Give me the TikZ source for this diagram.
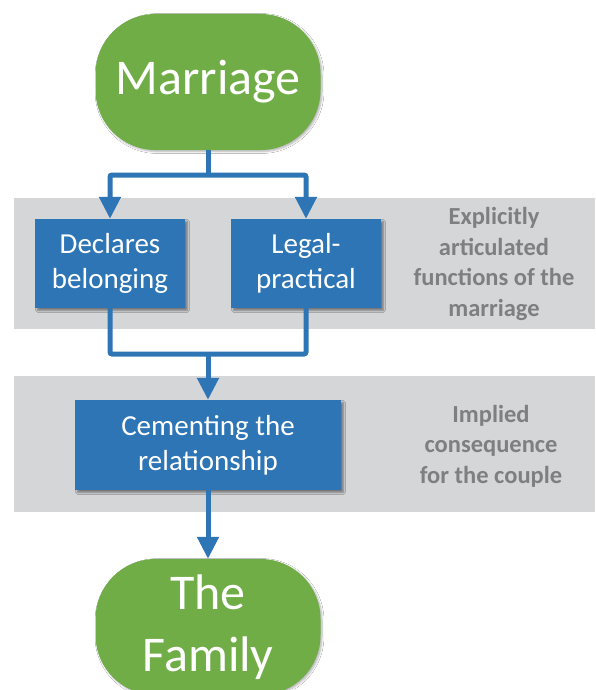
\documentclass[tikz,border=0pt]{standalone}
\usepackage{fontspec}
\setmainfont{Carlito}
\usetikzlibrary{arrows.meta,shadows.blur}
\definecolor{cblue}{HTML}{2E75B6}
\definecolor{cgreen}{HTML}{70AD47}
\definecolor{cband}{HTML}{D5D6D8}
\definecolor{cgtext}{HTML}{7F7F7F}
\begin{document}
\begin{tikzpicture}[x=1pt,y=-1pt,
  band/.style={fill=cband,draw=none},
  terminal/.style={fill=cgreen,draw=none,rounded corners=60pt,minimum width=225pt,minimum height=136pt,
    text=white,align=center,font=\fontsize{50}{62}\selectfont,inner sep=0pt,
    blur shadow={shadow xshift=1.5pt,shadow yshift=-1.5pt,shadow blur steps=6,shadow opacity=30}},
  procbox/.style={fill=cblue,draw=none,text=white,align=center,font=\fontsize{29}{35}\selectfont,inner sep=0pt,
    blur shadow={shadow xshift=2.5pt,shadow yshift=-2.5pt,shadow blur steps=6,shadow opacity=45}},
  note/.style={text=cgtext,align=center,font=\bfseries\fontsize{24.5}{30.5}\selectfont},
  conn/.style={draw=cblue,line width=5pt,rounded corners=2pt},
  arr/.style={conn,-{Triangle[width=21pt,length=22pt]}}
]
\clip (0,0) rectangle (595,690);
\fill[white] (0,0) rectangle (595,690);
\path[band] (14,198) rectangle (595,329);
\path[band] (14,376) rectangle (595,512);

\node[terminal] (marriage) at (208,82) {Marriage};
\node[procbox,minimum width=150pt,minimum height=89pt] (declares) at (110,263.5) {Declares\\belonging};
\node[procbox,minimum width=150pt,minimum height=89pt] (legal) at (306,263.5) {Legal-\\practical};
\node[procbox,minimum width=266pt,minimum height=90pt] (cement) at (208,445) {Cementing the\\relationship};
\node[terminal] (family) at (208,627) {The\\Family};

\node[note] (explicit) at (494,264) {Explicitly\\articulated\\functions of the\\marriage};
\node[note] (implied) at (491,446) {Implied\\consequence\\for the couple};

\coordinate (split) at (208,175);
\coordinate (join) at (208,354);
\draw[conn] (marriage.south) -- (split);
\draw[arr] (split) -| (declares.north);
\draw[arr] (split) -| (legal.north);
\draw[conn] (declares.south) |- (join) -| (legal.south);
\draw[arr] (join) -- (cement.north);
\draw[arr] (cement.south) -- (family.north);
\end{tikzpicture}
\end{document}
